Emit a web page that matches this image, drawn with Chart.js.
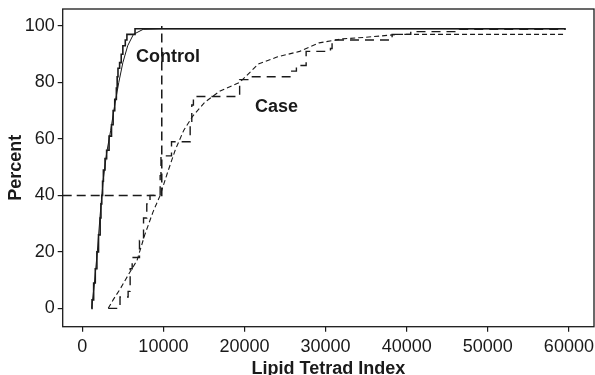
<!DOCTYPE html>
<html lang="en">
<head>
  <meta charset="UTF-8">
  <title>Lipid Tetrad Index - cumulative percent</title>
  <style>
    html, body { margin: 0; padding: 0; background: #fff; }
    .chart-container { width: 595px; height: 375px; }
  </style>
</head>
<body>
  <div class="chart-container">
    <canvas id="cdfChart" width="595" height="375"></canvas>
  </div>

  <script src="https://cdn.jsdelivr.net/npm/chart.js"></script>
  <script>
    // values
    const xTicks = [0, 10000, 20000, 30000, 40000, 50000, 60000];
    const yTicks = [0, 20, 40, 60, 80, 100];

    const controlStepX = [1100, 1200, 1400, 1600, 1800, 2000, 2200, 2300, 2400, 2500, 2600, 2800, 3000, 3300, 3600, 3800, 4000, 4200, 4300, 4400, 4600, 4800, 5000, 5300, 5500, 6500, 59600];
    const controlStepY = [0, 3, 9, 14, 20, 26, 32, 37, 40, 45, 49, 53, 56, 61, 65, 70, 74, 78, 82, 85, 87, 90, 93, 95, 97, 99, 99];

    const controlFitX = [1150, 1500, 1850, 2200, 2600, 3000, 3500, 4000, 4500, 5000, 5600, 6300, 7500, 10000, 59600];
    const controlFitY = [0, 9, 20, 33, 46, 55, 63, 72, 80, 87, 93, 97, 98.8, 99, 99];

    const caseStepX = [3200, 4400, 4650, 5650, 5900, 6150, 7050, 7550, 7950, 8350, 9600, 9700, 11000, 12500, 13300, 13500, 13700, 19200, 19400, 20700, 25400, 25600, 26400, 27600, 30600, 30800, 36300, 38200, 40500, 46500, 59600];
    const caseStepY = [0, 0, 4, 6, 14, 18, 24, 32, 37, 40, 47, 54, 59, 59, 66, 72, 75, 75, 81, 82, 82, 84, 86, 91, 92, 95, 95, 97, 98, 98.8, 98.8];

    const caseFitX = [3200, 3800, 4700, 5700, 6750, 7700, 8700, 9600, 10500, 11450, 12500, 13600, 15100, 17000, 19400, 21700, 24000, 26800, 29200, 32000, 35000, 39000, 59600];
    const caseFitY = [0, 3, 7, 12, 17, 26, 34, 40, 48, 56, 63, 68, 73, 77, 80, 86.5, 89, 91, 94, 95.4, 96, 97, 97];

    const cutX = [-2417, 9800, 9800];
    const cutY = [40, 40, 100];

    const labels = [
      { text: 'Control', x: 6620, y: 88.9 },
      { text: 'Case', x: 21300, y: 71.2 }
    ];

    const toPoints = (xs, ys) => xs.map((x, i) => ({ x: x, y: ys[i] }));
    const ink = '#1a1a1a';
    const fontFamily = '"Liberation Sans", Arial, Helvetica, sans-serif';

    const frame = {
      id: 'frame',
      afterDraw(chart) {
        const { ctx, chartArea: a, scales } = chart;
        ctx.save();
        ctx.strokeStyle = ink;
        ctx.lineWidth = 1.3;
        ctx.strokeRect(a.left, a.top, a.right - a.left, a.bottom - a.top);
        ctx.fillStyle = ink;
        ctx.font = 'bold 18px ' + fontFamily;
        ctx.textAlign = 'left';
        ctx.textBaseline = 'middle';
        labels.forEach(l => {
          ctx.fillText(l.text, scales.x.getPixelForValue(l.x), scales.y.getPixelForValue(l.y));
        });
        ctx.restore();
      }
    };

    const line = (data, width, dash, stepped) => ({
      data: data,
      borderColor: ink,
      borderWidth: width,
      borderDash: dash,
      stepped: stepped,
      fill: false,
      pointRadius: 0,
      tension: 0
    });

    const ctx = document.getElementById('cdfChart').getContext('2d');
    new Chart(ctx, {
      type: 'line',
      data: {
        datasets: [
          line(toPoints(controlStepX, controlStepY), 1.6, [], 'before'),
          line(toPoints(controlFitX, controlFitY), 1, [], false),
          line(toPoints(caseStepX, caseStepY), 1.4, [9, 6], 'before'),
          line(toPoints(caseFitX, caseFitY), 1.1, [5, 3], false),
          line(toPoints(cutX, cutY), 1.5, [9, 5], false)
        ]
      },
      options: {
        responsive: false,
        animation: false,
        layout: { padding: { top: 9, right: 1, left: 0, bottom: 0 } },
        plugins: {
          legend: { display: false },
          tooltip: { enabled: false }
        },
        scales: {
          x: {
            type: 'linear',
            min: -2417,
            max: 63095,
            afterBuildTicks: (scale) => { scale.ticks = xTicks.map(v => ({ value: v })); },
            afterFit: (scale) => {
              scale.height = 48.3;
              scale.paddingLeft = 0;
              scale.paddingRight = 0;
            },
            ticks: { color: ink, font: { size: 18, family: fontFamily }, padding: 5, maxRotation: 0, autoSkip: false, callback: (v) => String(v) },
            grid: { drawOnChartArea: false, tickLength: 5, color: ink, lineWidth: 1.2 },
            border: { display: false },
            title: {
              display: true,
              text: 'Lipid Tetrad Index',
              color: ink,
              font: { size: 18, weight: 'bold', family: fontFamily, lineHeight: 1 },
              padding: { top: 0, bottom: -3 }
            }
          },
          y: {
            type: 'linear',
            min: -6.5,
            max: 106,
            afterBuildTicks: (scale) => { scale.ticks = yTicks.map(v => ({ value: v })); },
            afterFit: (scale) => {
              scale.width = 62.7;
              scale.paddingTop = 0;
              scale.paddingBottom = 0;
            },
            ticks: { color: ink, font: { size: 18, family: fontFamily }, padding: 3 },
            grid: { drawOnChartArea: false, tickLength: 5, color: ink, lineWidth: 1.2 },
            border: { display: false },
            title: {
              display: true,
              text: 'Percent',
              color: ink,
              font: { size: 18, weight: 'bold', family: fontFamily, lineHeight: 1 },
              padding: 7
            }
          }
        }
      },
      plugins: [frame]
    });
  </script>
</body>
</html>
